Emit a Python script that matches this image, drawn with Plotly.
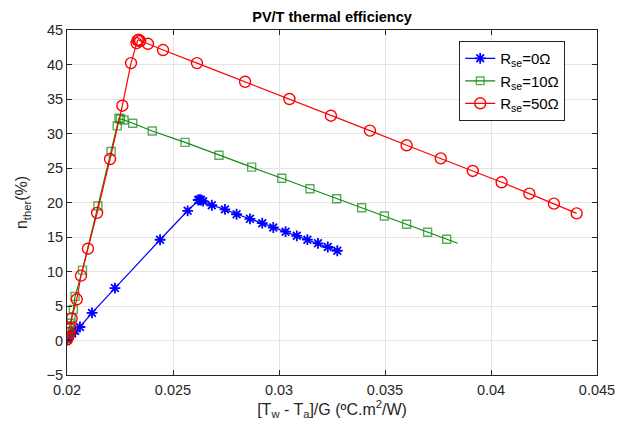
import plotly.graph_objects as go

# ---- data ----
x_r0 = [0.02000, 0.02005, 0.02014, 0.02024, 0.02038, 0.02061, 0.02118, 0.02226, 0.02439,
        0.02569, 0.02619, 0.02625, 0.02632, 0.02642, 0.02683, 0.02745, 0.02800, 0.02863,
        0.02921, 0.02973, 0.03031, 0.03084, 0.03134, 0.03184, 0.03230, 0.03275]
y_r0 = [0.1, 0.4, 0.7, 1.0, 1.4, 1.96, 4.0, 7.6, 14.6,
        18.8, 20.36, 20.43, 20.36, 20.2, 19.6, 19.0, 18.3, 17.64,
        17.0, 16.38, 15.77, 15.17, 14.61, 14.09, 13.55, 13.01]

x_r10 = [0.02000, 0.02005, 0.02010, 0.02014, 0.02019, 0.02030, 0.02038, 0.02073, 0.02146,
         0.02208, 0.02237, 0.02245, 0.02252, 0.02269, 0.02310, 0.02402, 0.02557, 0.02717,
         0.02871, 0.03013, 0.03146, 0.03272, 0.03390, 0.03497, 0.03602, 0.03701, 0.03791,
         0.03843]
y_r10 = [0.4, 1.1, 1.8, 2.5, 3.3, 4.5, 6.4, 10.2, 19.5,
         27.4, 31.1, 32.2, 32.1, 31.96, 31.48, 30.36, 28.72, 26.84,
         25.12, 23.51, 22.0, 20.55, 19.25, 18.04, 16.84, 15.68, 14.67,
         14.09]
mark_r10 = [True] * 27 + [False]

x_r50 = [0.02000, 0.02005, 0.02012, 0.02019, 0.02022, 0.02046, 0.02066, 0.02099, 0.02142,
         0.02203, 0.02261, 0.02302, 0.02328, 0.02333, 0.02338, 0.02345, 0.02382, 0.02453,
         0.02613, 0.02840, 0.03049, 0.03245, 0.03429, 0.03602, 0.03763, 0.03914, 0.04050,
         0.04181, 0.04297, 0.04404]
y_r50 = [0.14, 0.51, 1.1, 1.8, 3.2, 5.97, 9.4, 13.3, 18.5,
         26.3, 34.03, 40.2, 43.1, 43.5, 43.6, 43.4, 43.0, 42.1,
         40.2, 37.5, 35.0, 32.58, 30.41, 28.29, 26.4, 24.57, 22.93,
         21.28, 19.83, 18.43]

series_names = ["R<sub>se</sub>=0Ω", "R<sub>se</sub>=10Ω", "R<sub>se</sub>=50Ω"]
x_ticks = [0.02, 0.025, 0.03, 0.035, 0.04, 0.045]
x_tick_labels = ["0.02", "0.025", "0.03", "0.035", "0.04", "0.045"]
y_ticks = [-5, 0, 5, 10, 15, 20, 25, 30, 35, 40, 45]

font_family = "Liberation Sans, Arial, sans-serif"

fig = go.Figure()

fig.add_trace(go.Scatter(
    x=x_r0, y=y_r0, mode="lines+markers", name=series_names[0],
    line=dict(color="#0000ff", width=1.2),
    marker=dict(symbol="asterisk-open", size=9, color="#0000ff",
                line=dict(color="#0000ff", width=1.8)),
))
fig.add_trace(go.Scatter(
    x=x_r10, y=y_r10, mode="lines+markers", name=series_names[1],
    line=dict(color="#138a13", width=1.2),
    marker=dict(symbol="square-open", size=[8 if m else 0 for m in mark_r10],
                color="#138a13", line=dict(color="#138a13", width=1.4)),
))
fig.add_trace(go.Scatter(
    x=x_r50, y=y_r50, mode="lines+markers", name=series_names[2],
    line=dict(color="#ff0000", width=1.2),
    marker=dict(symbol="circle-open", size=11, color="#ff0000",
                line=dict(color="#ff0000", width=1.4)),
))

axis_common = dict(
    showline=True, linecolor="#262626", linewidth=1, mirror="ticks",
    ticks="inside", ticklen=5, tickcolor="#262626",
    showgrid=True, gridcolor="#e3e3e3", gridwidth=1,
    zeroline=False, automargin=False,
    tickfont=dict(family=font_family, size=14.5, color="#262626"),
)

fig.update_layout(
    width=617, height=427,
    paper_bgcolor="white", plot_bgcolor="white",
    margin=dict(l=67, r=20, t=30, b=52),
    title=dict(text="<b>PV/T thermal efficiency</b>", x=0.5, xref="paper",
               xanchor="center", y=0.96, yanchor="middle",
               font=dict(family=font_family, size=14.5, color="black")),
    xaxis=dict(range=[0.02, 0.045], tickvals=x_ticks, ticktext=x_tick_labels,
               ticklabeloverflow="allow", ticklabelstandoff=2,
               title=dict(text="[T<sub>w</sub> - T<sub>a</sub>]/G (ºC.m<sup>2</sup>/W)",
                          font=dict(family=font_family, size=16, color="#262626"),
                          standoff=5),
               **axis_common),
    yaxis=dict(range=[-5, 45], tickvals=y_ticks,
               title=dict(text="n<sub>ther</sub>(%)",
                          font=dict(family=font_family, size=16, color="#262626"),
                          standoff=14),
               **axis_common),
    legend=dict(x=0.74, y=0.968, xanchor="left", yanchor="top",
                bgcolor="white", bordercolor="#262626", borderwidth=1,
                font=dict(family=font_family, size=15, color="black"),
                tracegroupgap=0),
    showlegend=True,
)

fig.write_html("out.html", config={"displayModeBar": False},
               post_script="document.body.style.margin='0';document.body.style.padding='0';")
